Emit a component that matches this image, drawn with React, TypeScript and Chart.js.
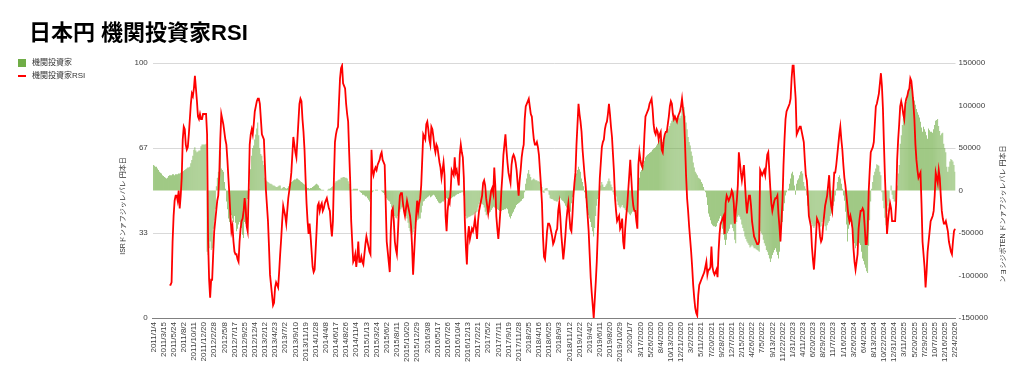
import React, { useEffect, useRef } from 'react';
import { Chart, registerables } from 'chart.js';

Chart.register(...registerables);

const FONT = '"Liberation Sans", "Noto Sans CJK JP", sans-serif';
const GREEN = '#70AD47';
const RED = '#FF0000';
const TITLE = '日本円 機関投資家RSI';
const BAR_LABEL = '機関投資家';
const LINE_LABEL = '機関投資家RSI';
const LEFT_TITLE = 'ISRドンァフジッレバレ 円本日';
const RIGHT_TITLE = 'ンョシジポTEN ドンァフジッレバレ 円本日';

const tickLabels = ['2011/1/4','2011/3/15','2011/5/24','2011/8/2','2011/10/11','2011/12/20','2012/2/28','2012/5/8','2012/7/17','2012/9/25','2012/12/4','2013/2/12','2013/4/23','2013/7/2','2013/9/10','2013/11/19','2014/1/28','2014/4/8','2014/6/17','2014/8/26','2014/11/4','2015/1/13','2015/3/24','2015/6/2','2015/8/11','2015/10/20','2015/12/29','2016/3/8','2016/5/17','2016/7/26','2016/10/4','2016/12/13','2017/2/21','2017/5/2','2017/7/11','2017/9/19','2017/11/28','2018/2/5','2018/4/16','2018/6/25','2018/9/3','2018/11/12','2019/1/22','2019/4/2','2019/6/11','2019/8/20','2019/10/29','2020/1/7','3/17/2020','5/26/2020','8/4/2020','10/13/2020','12/21/2020','3/2/2021','5/11/2021','7/20/2021','9/28/2021','12/7/2021','2/15/2022','4/26/2022','7/5/2022','9/13/2022','11/22/2022','1/31/2023','4/11/2023','6/20/2023','8/29/2023','11/7/2023','1/16/2024','3/26/2024','6/4/2024','8/13/2024','10/22/2024','12/31/2024','3/11/2025','5/20/2025','7/29/2025','10/7/2025','12/16/2025','2/24/2026'];

const rsiTicks = [0, 100 / 3, 200 / 3, 100];

const rsi = [
null,null,null,null,null,null,null,null,null,null,
null,null,null,null,null,null,13,13,14,30,
40,46,48,48,46,50,43,48,55,70,
75,74,68,66,67,72,78,84,88,87,
90,95,90,85,79,78,80,78,78,80,
80,80,80,72,30,15,8,15,15,25,
34,38,42,46,48,56,70,80,78,76,
73,70,68,62,55,48,40,34,36,30,
26,25,25,23,22,30,35,38,39,42,
47,43,36,34,50,68,72,74,72,76,
81,83,85,86,86,84,78,72,71,70,
60,50,44,38,28,17,13,9,5,6,
12,14,13,12,18,25,31,38,44,42,
40,37,42,47,50,53,57,64,71,68,
65,63,70,77,84,86,85,78,73,66,
55,45,38,33,37,32,26,20,18,19,
27,35,44,45,42,44,45,42,43,45,
46,47,45,43,42,36,32,38,55,69,
72,74,75,85,94,98,99,92,91,90,
84,80,77,65,54,38,30,22,23,25,
20,24,30,22,22,24,22,21,25,29,
32,30,28,26,25,66,58,56,58,59,
58,60,61,62,64,65,62,61,60,45,
30,26,22,18,34,42,43,38,30,27,
25,33,42,48,49,49,45,42,40,43,
46,44,42,40,36,28,17,25,33,40,
46,42,45,47,52,62,72,71,70,76,
77,74,70,68,75,74,71,67,65,68,
67,64,61,59,55,58,61,56,40,34,
42,46,45,50,58,57,56,63,57,58,
55,52,64,68,65,63,55,38,28,21,
32,36,31,33,35,34,36,39,35,31,
38,42,44,46,48,53,54,52,47,44,
41,44,47,50,51,49,59,52,40,35,
31,36,42,50,56,64,68,72,66,61,
57,55,53,60,63,64,63,61,58,53,
48,54,58,63,66,68,78,83,84,85,
86,83,80,79,74,70,68,68,69,67,
64,58,52,45,32,24,23,28,34,37,
37,36,34,32,29,30,32,34,35,42,
45,40,33,28,23,27,32,38,42,45,
40,35,34,40,48,53,57,68,76,84,
80,77,73,66,61,56,52,46,40,34,
25,16,10,5,0,7,14,22,33,44,
55,61,67,69,70,74,76,77,80,84,
80,75,71,64,57,47,42,38,39,40,
35,36,39,30,27,35,40,44,50,56,
62,55,48,44,42,42,38,35,60,65,
62,60,59,63,72,79,80,81,82,84,
85,86,82,76,73,72,74,73,70,72,
73,66,65,70,72,73,73,76,79,83,
85,84,80,78,79,78,77,79,80,81,
83,86,82,79,68,56,47,42,36,31,
26,20,13,8,4,2,1,9,13,14,
15,16,17,18,20,22,17,19,19,20,
28,20,18,17,18,19,16,26,33,37,
38,39,40,33,45,48,47,46,47,48,
50,49,45,37,42,46,52,65,61,57,
54,57,60,53,46,41,45,48,48,44,
38,35,32,31,30,29,29,30,58,57,
56,57,58,56,60,64,65,58,51,45,
42,44,46,47,47,48,41,36,30,38,
46,60,70,78,81,82,83,84,86,94,
99,99,92,86,72,73,74,75,75,73,
71,69,62,56,54,48,40,38,36,28,
23,19,25,32,39,38,37,32,30,31,
36,40,44,46,48,52,56,48,44,42,
50,57,57,60,64,68,72,75,70,66,
60,55,52,48,44,40,38,40,38,35,
27,22,19,22,25,35,39,42,42,43,
42,36,29,29,35,50,58,65,66,67,
69,76,83,84,86,88,92,96,91,82,
68,55,45,33,38,42,45,43,38,38,
38,38,45,62,70,76,83,85,83,80,
78,84,86,87,89,90,94,93,89,84,
78,68,62,58,55,56,57,45,30,25,
20,12,18,26,30,34,38,39,40,42,
48,57,55,53,58,55,48,42,39,37,
37,38,36,34,30,28,26,25,30,34,
35
];

const netPosition = [
30000,29000,28000,28000,26000,24000,22000,21000,20000,18000,
17000,16000,15000,14000,15000,17000,18000,18000,18000,19000,
19000,18000,19000,19000,19000,20000,20000,21000,21000,22000,
23000,24000,25000,26000,27000,27000,28000,32000,36000,41000,
48000,51000,47000,45000,46000,47000,47000,52000,54000,54000,
54000,54000,55000,-72000,-76000,-68000,-60000,-70000,-68000,-45000,
-35000,-22000,5000,15000,22000,47000,45000,26000,24000,22000,
10000,2000,-13000,-22000,-33000,-37000,-33000,-29000,-33000,-37000,
-30000,-38000,-48000,-45000,-40000,-37000,-40000,-44000,-52000,-56000,
-37000,-39000,-40000,-10000,-2000,2000,25000,41000,50000,53000,
60000,66000,73000,80000,65000,50000,43000,41000,35000,30000,
15000,12000,11000,10000,9000,8000,8000,7000,6000,6000,
5000,4000,4000,5000,6000,6000,2000,3000,4000,4000,
3000,2000,3000,5000,8000,9000,10000,11000,12000,13000,
13000,14000,14000,13000,12000,11000,10000,9000,8000,7000,
5000,4000,3000,3000,2000,3000,3000,4000,5000,6000,
7000,8000,7000,6000,3000,2000,1000,1000,1000,0,
0,0,1000,2000,2000,3000,4000,5000,7000,9000,
11000,11000,12000,13000,13000,15000,15000,16000,16000,15000,
15000,14000,11000,8000,4000,1000,1000,2000,2000,2000,
2000,2000,0,-1000,-2000,-3000,-5000,-5000,-6000,-7000,
-7000,-9000,-11000,-13000,-10000,-5000,-2000,-1000,0,1000,
1000,1000,0,0,0,-1000,-2000,-3000,-5000,-7000,
-9000,-11000,-12000,-13000,-16000,-20000,-25000,-28000,-30000,-32000,
-33000,-30000,-27000,-25000,-22000,-20000,-19000,-22000,-26000,-30000,
-33000,-38000,-44000,-48000,-51000,-52000,-49000,-45000,-40000,-37000,
-35000,-34000,-33000,-33000,-26000,-18000,-13000,-12000,-10000,-9000,
-8000,-7000,-6000,-8000,-7000,-6000,-5000,-6000,-8000,-10000,
-12000,-14000,-15000,-15000,-14000,-13000,-13000,-11000,-10000,-9000,
-10000,-11000,-11000,-10000,-9000,-8000,-7000,-7000,-6000,-5000,
-4000,-4000,-3000,-3000,-2000,-2000,-6000,-25000,-30000,-33000,
-32000,-31000,-31000,-30000,-29000,-29000,-28000,-27000,-26000,-25000,
-20000,-16000,-13000,-15000,-16000,-17000,-20000,-25000,-29000,-28000,
-27000,-26000,-25000,-23000,-21000,-19000,-20000,-21000,-21000,-22000,
-23000,-24000,-25000,-24000,-23000,-23000,-22000,-22000,-21000,-22000,
-27000,-31000,-33000,-30000,-27000,-25000,-22000,-20000,-17000,-16000,
-15000,-14000,-13000,-12000,-10000,-9000,-2000,8000,14000,20000,
24000,19000,16000,12000,13000,14000,13000,12000,12000,11000,
11000,10000,7000,4000,-2000,-3000,2000,3000,3000,-1000,
-5000,-9000,-10000,-10000,-11000,-12000,-12000,-13000,-13000,-11000,
-10000,-9000,-11000,-12000,-13000,-15000,-18000,-20000,-22000,-23000,
-24000,-25000,-15000,-8000,-2000,6000,14000,20000,24000,28000,
25000,22000,14000,10000,5000,-2000,-9000,-20000,-25000,-29000,
-33000,-37000,-43000,-48000,-54000,-44000,-30000,-18000,-10000,-6000,
1000,6000,10000,7000,4000,4000,6000,8000,11000,14000,
11000,7000,4000,-2000,-5000,-5000,-7000,-13000,-17000,-19000,
-21000,-19000,-17000,-20000,-21000,-23000,-24000,-25000,-26000,-28000,
-29000,-27000,-25000,-23000,-24000,-26000,-28000,-29000,2000,15000,
22000,24000,26000,30000,35000,39000,41000,42000,43000,44000,
45000,46000,48000,49000,50000,51000,53000,55000,57000,59000,
61000,53000,57000,61000,64000,66000,69000,71000,73000,76000,
79000,82000,85000,86000,85000,84000,84000,86000,88000,85000,
88000,96000,97000,98000,88000,80000,72000,63000,57000,53000,
46000,41000,33000,27000,22000,20000,18000,15000,14000,13000,
10000,8000,4000,1000,-2000,-8000,-17000,-27000,-31000,-35000,
-39000,-41000,-42000,-42000,-43000,-42000,-38000,-36000,-33000,-30000,
-40000,-45000,-52000,-58000,-64000,-58000,-50000,-48000,-45000,-40000,
-40000,-44000,-48000,-58000,-62000,-37000,-31000,-29000,-31000,-34000,
-40000,-44000,-48000,-54000,-57000,-60000,-62000,-64000,-67000,-66000,
-64000,-66000,-68000,-68000,-69000,-70000,-71000,-72000,-48000,-50000,
-52000,-58000,-62000,-65000,-70000,-72000,-76000,-80000,-84000,-80000,
-76000,-73000,-70000,-68000,-72000,-76000,-80000,-72000,-60000,-45000,
-37000,-24000,-15000,-6000,-2000,0,2000,8000,14000,20000,
22000,18000,6000,-5000,8000,12000,14000,18000,22000,23000,
20000,10000,5000,2000,-6000,-18000,-29000,-33000,-37000,-39000,
-42000,-44000,-42000,-40000,-37000,-38000,-41000,-43000,-42000,-37000,
-35000,-33000,-42000,-47000,-41000,-38000,-36000,-30000,-27000,-25000,
-18000,-13000,-6000,2000,10000,16000,18000,14000,8000,2000,
-6000,-12000,-25000,-40000,-60000,-45000,-40000,-37000,-42000,-46000,
-58000,-62000,-68000,-65000,-63000,-60000,-62000,-64000,-72000,-80000,
-83000,-87000,-91000,-95000,-97000,-65000,-35000,-13000,2000,10000,
18000,22000,26000,31000,30000,29000,22000,18000,-2000,-12000,
-21000,-32000,-41000,-25000,-18000,-13000,0,6000,-5000,-10000,
-13000,-13000,-13000,6000,20000,30000,55000,65000,77000,85000,
92000,100000,104000,110000,115000,120000,124000,125000,114000,110000,
106000,101000,96000,92000,89000,86000,81000,74000,69000,75000,
72000,69000,65000,61000,73000,71000,69000,69000,68000,72000,
77000,82000,83000,84000,76000,70000,65000,67000,68000,55000,
50000,45000,28000,22000,28000,34000,37000,36000,34000,30000,
22000
];

const categories = netPosition.map((_, i) => (i % 10 === 0 ? tickLabels[i / 10] || '' : ''));

function drawRotated(ctx: CanvasRenderingContext2D, text: string, x: number, y: number) {
  ctx.save();
  ctx.translate(x, y);
  ctx.rotate(-Math.PI / 2);
  ctx.textAlign = 'center';
  ctx.textBaseline = 'middle';
  ctx.font = `7px ${FONT}`;
  ctx.fillStyle = '#333333';
  ctx.fillText(text, 0, 0);
  ctx.restore();
}

const decorPlugin = {
  id: 'decor',
  afterDraw(chart: any) {
    const ctx: CanvasRenderingContext2D = chart.ctx;
    ctx.save();
    ctx.fillStyle = '#000000';
    ctx.font = `bold 22px ${FONT}`;
    ctx.textAlign = 'left';
    ctx.textBaseline = 'alphabetic';
    ctx.fillText(TITLE, 29, 40);

    ctx.fillStyle = GREEN;
    ctx.fillRect(18, 59, 8, 8);
    ctx.strokeStyle = RED;
    ctx.lineWidth = 2;
    ctx.beginPath();
    ctx.moveTo(18, 76);
    ctx.lineTo(26, 76);
    ctx.stroke();
    ctx.fillStyle = '#333333';
    ctx.font = `8px ${FONT}`;
    ctx.textBaseline = 'middle';
    ctx.fillText(BAR_LABEL, 32, 63);
    ctx.fillText(LINE_LABEL, 32, 76);
    ctx.restore();

    drawRotated(ctx, LEFT_TITLE, 123.5, 206);
    drawRotated(ctx, RIGHT_TITLE, 1003, 214);
  },
};

export default function App() {
  const ref = useRef<HTMLCanvasElement | null>(null);
  useEffect(() => {
    document.body.style.margin = '0';
    if (!ref.current) return;
    const chart = new Chart(ref.current, {
      type: 'bar',
      data: {
        labels: categories,
        datasets: [
          {
            type: 'line',
            label: LINE_LABEL,
            data: rsi,
            yAxisID: 'y',
            borderColor: RED,
            borderWidth: 1.8,
            pointRadius: 0,
            tension: 0,
            fill: false,
            spanGaps: false,
            order: 1,
          } as any,
          {
            type: 'bar',
            label: BAR_LABEL,
            data: netPosition,
            yAxisID: 'y2',
            backgroundColor: GREEN,
            borderWidth: 0,
            barPercentage: 0.65,
            categoryPercentage: 1.0,
            order: 2,
          } as any,
        ],
      },
      options: {
        animation: false,
        responsive: false,
        devicePixelRatio: 1,
        layout: { padding: { left: 108, right: 0, top: 63, bottom: 0 } },
        plugins: {
          legend: { display: false },
          title: { display: false },
          tooltip: { enabled: false },
        },
        scales: {
          x: {
            type: 'category',
            offset: true,
            grid: { display: false, drawTicks: false },
            border: { display: true, color: '#808080', width: 1 },
            ticks: {
              autoSkip: false,
              maxRotation: 90,
              minRotation: 90,
              padding: 4,
              color: '#404040',
              font: { size: 8, family: FONT },
            },
            afterFit: (s: any) => { s.height = 62; },
          },
          y: {
            position: 'left',
            min: 0,
            max: 100,
            afterBuildTicks: (s: any) => { s.ticks = rsiTicks.map((v) => ({ value: v })); },
            ticks: {
              callback: (v: any) => String(Math.round(Number(v))),
              padding: 5,
              color: '#404040',
              font: { size: 8, family: FONT },
            },
            grid: {
              drawTicks: false,
              color: (c: any) => (c.tick && c.tick.value === 0 ? 'rgba(0,0,0,0)' : '#d9d9d9'),
            },
            border: { display: false },
            afterFit: (s: any) => { s.width = 44.8; },
          },
          y2: {
            position: 'right',
            min: -150000,
            max: 150000,
            ticks: {
              stepSize: 50000,
              callback: (v: any) => String(v),
              padding: 3,
              color: '#404040',
              font: { size: 8, family: FONT },
            },
            grid: { display: false, drawTicks: false },
            border: { display: false },
            afterFit: (s: any) => { s.width = 68.5; },
          },
        },
      } as any,
      plugins: [decorPlugin],
    });
    return () => chart.destroy();
  }, []);
  return (
    <div style={{ width: 1024, height: 380 }}>
      <canvas ref={ref} width={1024} height={380} style={{ display: 'block' }} />
    </div>
  );
}
